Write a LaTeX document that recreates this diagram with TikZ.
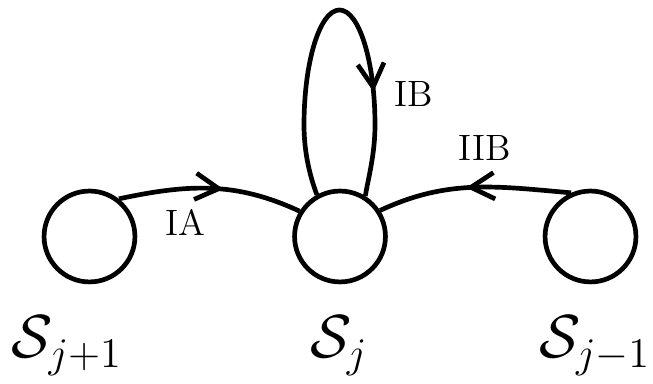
\documentclass[tikz,border=0pt]{standalone}
\usepackage{amsmath}
\usepackage{amssymb}
\usepackage{tikz}
\usetikzlibrary{positioning,arrows.meta,decorations.markings}

\begin{document}
\begin{tikzpicture}[
  x=0.012cm, y=0.012cm,
  state/.style={draw, circle, line width=1.6pt, minimum size=1.09cm, inner sep=0pt},
  lab/.style={font=\fontsize{21}{25}\selectfont, anchor=base, inner sep=0pt},
  tag/.style={font=\fontsize{12.5}{15}\selectfont, inner sep=0pt},
  edge/.style={line width=1.6pt},
  midarrow/.style={postaction={decorate}, decoration={markings,
      mark=at position #1 with {\arrow{Straight Barb[length=8pt,width=9pt,line width=1.6pt]}}}}
]
\useasboundingbox (0,0) rectangle (653,384);

% the three sets
\node[state] (sp) at (89.5,147.5) {};
\node[state] (s)  at (340,147.5) {};
\node[state] (sm) at (590.5,147.5) {};

\node[lab] (lp) at (67,26)  {$\mathcal{S}_{j+1}$};
\node[lab] (l)  at (339,26) {$\mathcal{S}_{j}$};
\node[lab] (lm) at (595,26) {$\mathcal{S}_{j-1}$};

% transitions
\draw[edge, midarrow=0.57] (sp.52) to[out=12, in=155] (s.148);
\draw[edge, midarrow=0.54] (sm.114) to[out=175, in=25] (s.33);
\draw[edge, midarrow=0.735] (s.119) .. controls (311,205) and (304,229) .. (304,259)
  .. controls (304,322.5) and (319.9,374) .. (339.5,374)
  .. controls (359.1,374) and (375,322.5) .. (375,259)
  .. controls (375,229) and (368,205) .. (s.58);

\node[tag] (ia)  at (185,162) {IA};
\node[tag] (ib)  at (414,290) {IB};
\node[tag] (iib) at (485,236) {IIB};

\end{tikzpicture}
\end{document}
